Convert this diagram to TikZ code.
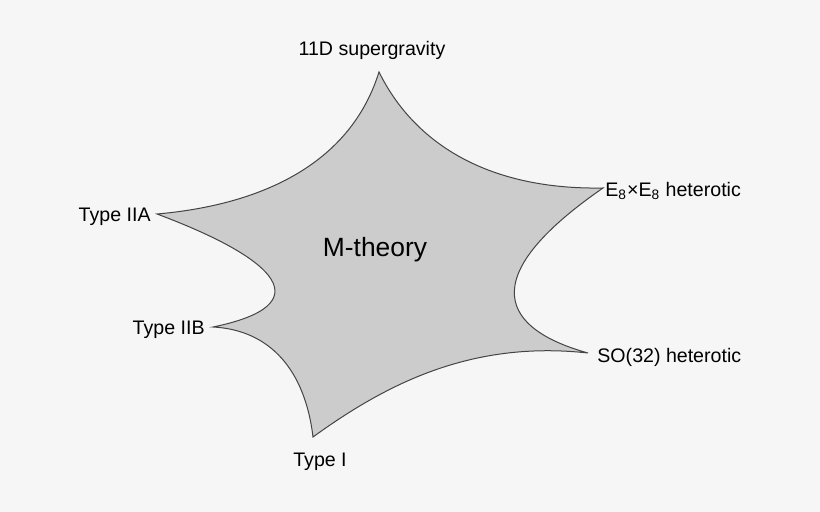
\documentclass[tikz,border=0pt]{standalone}
\usepackage{fontspec}
\setmainfont{Liberation Sans}
\definecolor{bgcol}{HTML}{F6F6F6}
\definecolor{mfill}{HTML}{CCCCCC}
\definecolor{mline}{HTML}{444444}
\tikzset{
  limit/.style={font=\fontsize{9.8}{12}\selectfont, inner sep=0pt},
}
\begin{document}
\begin{tikzpicture}[x=0.5pt, y=-0.5pt]
            \useasboundingbox (0,0) rectangle (820,512);
            \fill[bgcol] (0,0) rectangle (820,512);

            % corners of the star
            \coordinate (sugra) at (379,72);
            \coordinate (eeight) at (603,188);
            \coordinate (sothree) at (588,353);
            \coordinate (typeone) at (313,437);
            \coordinate (twob) at (213,327);
            \coordinate (twoa) at (157,214);

            \filldraw[fill=mfill, draw=mline, line width=0.5pt, line join=miter]
                (sugra) .. controls (415,145) and (490,190) .. (eeight)
                        .. controls (470,280) and (505,330) .. (sothree)
                        .. controls (470,340) and (385,385) .. (typeone)
                        .. controls (305,370) and (270,330) .. (twob)
                        .. controls (320,305) and (280,260) .. (twoa)
                        .. controls (260,205) and (350,165) .. cycle;

            \node[font=\fontsize{13.2}{16}\selectfont, inner sep=0pt, anchor=base] (mth) at (375,257) {M-theory};

            \node[limit, anchor=base] (lsugra) at (372,56) {11D supergravity};
            \node[limit, anchor=base west] (leeight) at (605,197) {E\textsubscript{8}×E\textsubscript{8} heterotic};
            \node[limit, anchor=base west] (lsothree) at (597,363) {SO(32) heterotic};
            \node[limit, anchor=base] (ltypeone) at (320,467) {Type I};
            \node[limit, anchor=base east] (ltwob) at (205,335) {Type IIB};
            \node[limit, anchor=base east] (ltwoa) at (151,222) {Type IIA};
        \end{tikzpicture}
\end{document}
